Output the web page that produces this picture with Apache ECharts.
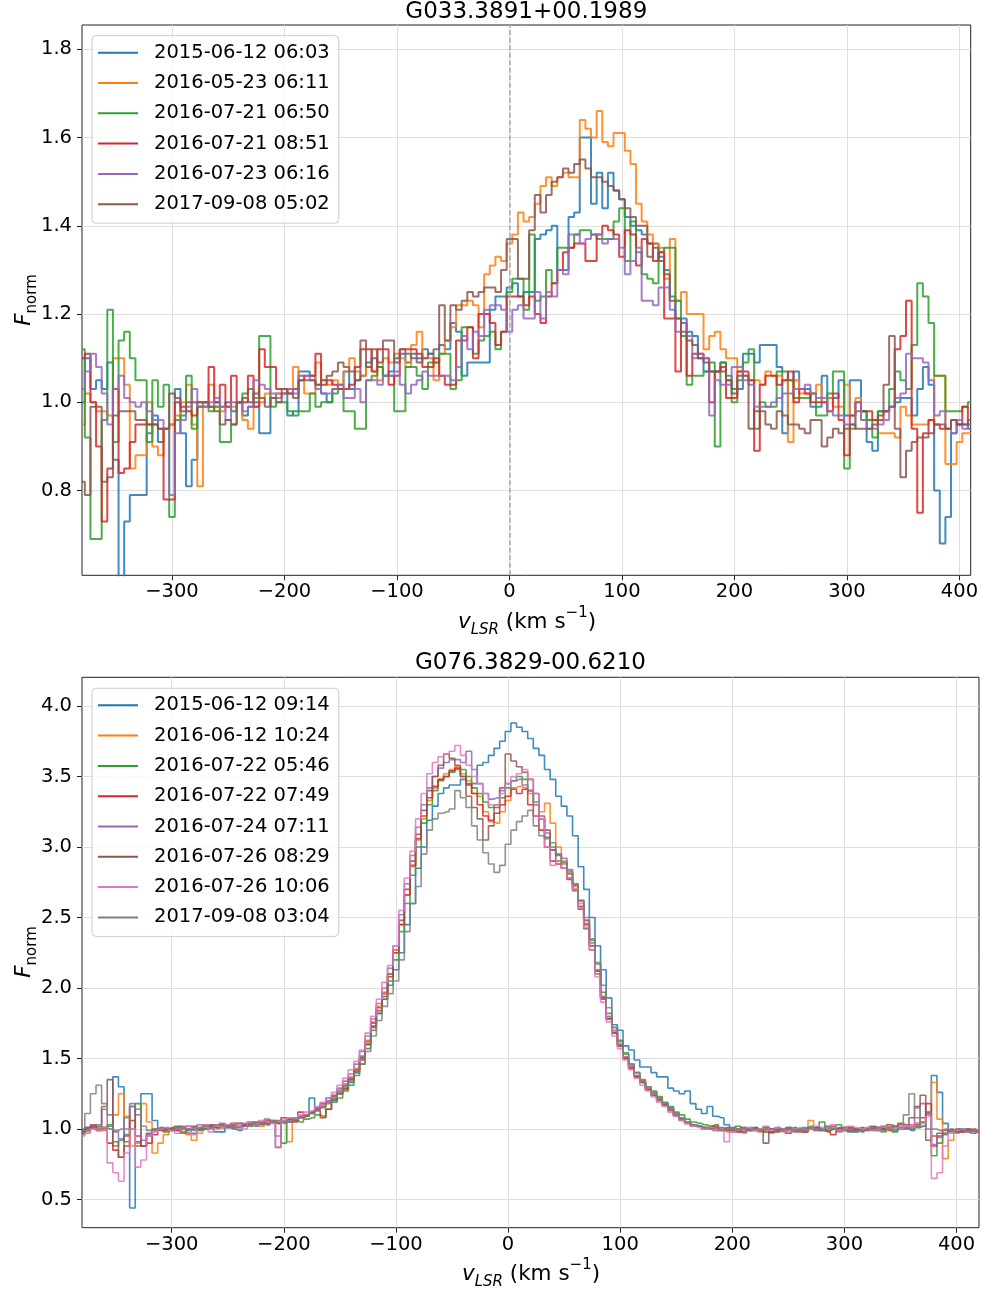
<!DOCTYPE html>
<html>
<head>
<meta charset="utf-8">
<title>Line-profile monitoring of G033.3891+00.1989 and G076.3829-00.6210</title>
<script src="https://cdn.jsdelivr.net/npm/echarts@6.0.0/dist/echarts.min.js"></script>
<style>
  html, body { margin: 0; padding: 0; background: #ffffff; }
  #chart { width: 982px; height: 1295px; }
</style>
</head>
<body>
<div id="chart"></div>
<script>
// ---------------------------------------------------------------------------
// Spectra: normalised flux per 5 km/s velocity channel (v_LSR).
// G033 channels run from -380 to 410 km/s, G076 channels from -380 to 420 km/s.
// ---------------------------------------------------------------------------
const CHANNEL_STEP = 5;
const G033_VEL_START = -380;
const G076_VEL_START = -380;

const G033_TITLE = 'G033.3891+00.1989';
const G076_TITLE = 'G076.3829-00.6210';

const VEL_TICKS = [-300, -200, -100, 0, 100, 200, 300, 400];
const G033_FLUX_TICKS = [0.8, 1.0, 1.2, 1.4, 1.6, 1.8];
const G076_FLUX_TICKS = [0.5, 1.0, 1.5, 2.0, 2.5, 3.0, 3.5, 4.0];

const TAB10 = ['#1f77b4', '#ff7f0e', '#2ca02c', '#d62728', '#9467bd', '#8c564b', '#e377c2', '#7f7f7f'];

// ---- G033.3891+00.1989 ----------------------------------------------------
const g033Epochs = ['2015-06-12 06:03', '2016-05-23 06:11', '2016-07-21 06:50',
                    '2016-07-21 08:51', '2016-07-23 06:16', '2017-09-08 05:02'];

const g033_20150612_0603 = [
  1.00, 1.10, 1.03, 1.05, 1.03, 1.09, 0.87, 0.55, 0.73, 0.79,
  0.79, 0.79, 0.93, 0.97, 0.91, 0.94, 0.95, 1.03, 0.93, 0.81,
  0.87, 0.99, 0.99, 0.99, 1.00, 0.99, 1.00, 0.98, 1.00, 0.97,
  0.99, 1.00, 0.93, 0.93, 1.01, 1.02, 1.02, 0.97, 0.98, 1.07,
  1.07, 1.06, 1.04, 1.02, 1.00, 1.03, 1.04, 1.07, 1.03, 1.05,
  1.06, 1.09, 1.10, 1.08, 1.06, 1.07, 1.10, 1.11, 1.09, 1.11,
  1.10, 1.12, 1.11, 1.09, 1.13, 1.12, 1.18, 1.16, 1.06, 1.09,
  1.09, 1.09, 1.09, 1.21, 1.24, 1.24, 1.26, 1.27, 1.24, 1.25,
  1.25, 1.37, 1.38, 1.39, 1.40, 1.30, 1.30, 1.42, 1.43, 1.60,
  1.60, 1.45, 1.52, 1.44, 1.52, 1.48, 1.46, 1.42, 1.40, 1.39,
  1.38, 1.36, 1.36, 1.33, 1.30, 1.24, 1.19, 1.19, 1.16, 1.15,
  1.10, 1.07, 1.07, 1.07, 1.09, 1.05, 1.03, 1.03, 1.11, 1.11,
  1.09, 1.13, 1.13, 1.13, 1.08, 0.93, 1.05, 1.07, 1.03, 1.03,
  0.99, 0.99, 1.06, 1.01, 1.01, 1.05, 0.97, 1.05, 1.05, 0.98,
  0.91, 0.89, 0.98, 0.98, 0.99, 1.00, 1.01, 1.01, 0.97, 1.03,
  1.08, 1.04, 0.80, 0.68, 0.74, 0.93, 0.95, 0.95, 0.94
];
const g033_20160523_0611 = [
  0.95, 1.02, 1.00, 0.98, 0.98, 0.97, 1.10, 1.10, 1.04, 0.85,
  0.88, 0.88, 1.00, 0.90, 0.88, 0.94, 0.95, 0.97, 1.00, 1.04,
  0.95, 0.81, 0.99, 1.04, 0.99, 0.98, 0.99, 0.99, 1.00, 0.96,
  0.94, 0.99, 1.00, 1.02, 1.01, 1.02, 1.02, 1.03, 1.08, 1.06,
  1.02, 1.02, 1.09, 1.05, 1.04, 1.05, 1.03, 1.07, 1.10, 1.07,
  1.06, 1.08, 1.07, 1.05, 1.10, 1.09, 1.11, 1.10, 1.08, 1.13,
  1.16, 1.10, 1.10, 1.05, 1.11, 1.14, 1.17, 1.22, 1.22, 1.23,
  1.22, 1.17, 1.29, 1.31, 1.33, 1.32, 1.36, 1.38, 1.43, 1.41,
  1.42, 1.45, 1.49, 1.51, 1.49, 1.51, 1.52, 1.51, 1.51, 1.64,
  1.62, 1.60, 1.66, 1.59, 1.58, 1.61, 1.61, 1.57, 1.54, 1.45,
  1.41, 1.38, 1.36, 1.35, 1.28, 1.37, 1.23, 1.25, 1.20, 1.20,
  1.20, 1.12, 1.15, 1.16, 1.12, 1.10, 1.10, 1.07, 1.06, 1.05,
  1.05, 1.04, 1.07, 1.06, 1.06, 1.05, 0.91, 1.05, 1.02, 1.02,
  1.02, 1.04, 1.00, 1.01, 0.99, 0.99, 1.04, 0.97, 1.01, 0.96,
  0.96, 0.96, 0.93, 0.93, 0.93, 0.92, 0.99, 0.97, 0.95, 0.95,
  0.95, 0.96, 1.06, 1.06, 0.86, 0.86, 0.91, 0.93, 0.93
];
const g033_20160721_0650 = [
  1.12, 0.92, 0.69, 0.69, 0.96, 1.21, 0.91, 1.14, 1.16, 1.10,
  1.05, 1.05, 0.91, 1.05, 0.99, 1.04, 0.74, 0.96, 0.97, 1.06,
  0.94, 0.99, 1.00, 0.98, 0.99, 0.91, 0.91, 0.95, 1.00, 1.02,
  1.03, 1.01, 1.15, 1.15, 0.99, 1.00, 1.00, 0.98, 0.97, 0.98,
  0.98, 1.02, 0.99, 1.00, 1.00, 1.02, 1.03, 0.98, 0.98, 0.94,
  0.94, 1.05, 1.06, 1.08, 1.06, 1.06, 0.98, 0.98, 1.08, 1.08,
  1.06, 1.03, 1.09, 1.09, 1.11, 1.11, 1.03, 1.05, 1.17, 1.17,
  1.11, 1.14, 1.15, 1.16, 1.12, 1.16, 1.25, 1.28, 1.28, 1.21,
  1.38, 1.23, 1.24, 1.30, 1.27, 1.35, 1.35, 1.35, 1.38, 1.39,
  1.39, 1.38, 1.37, 1.37, 1.37, 1.41, 1.44, 1.32, 1.41, 1.34,
  1.29, 1.28, 1.27, 1.34, 1.35, 1.35, 1.23, 1.15, 1.04, 1.06,
  1.06, 1.07, 1.09, 0.90, 1.09, 1.06, 1.00, 1.05, 1.09, 1.12,
  0.94, 1.00, 0.99, 0.99, 1.07, 1.07, 1.05, 1.01, 1.01, 1.01,
  1.02, 0.97, 0.97, 1.02, 1.07, 1.07, 0.85, 0.94, 0.98, 0.98,
  0.96, 0.92, 0.98, 0.98, 1.03, 1.07, 1.05, 1.03, 1.13, 1.27,
  1.24, 1.18, 1.06, 1.06, 0.98, 0.98, 0.98, 0.99, 1.00
];
const g033_20160721_0851 = [
  1.10, 1.11, 1.00, 0.90, 0.73, 0.85, 1.03, 0.84, 0.85, 0.91,
  0.95, 0.95, 0.95, 0.95, 0.94, 0.78, 0.78, 1.00, 0.99, 0.98,
  0.97, 1.00, 1.00, 1.08, 1.00, 1.04, 0.99, 1.06, 1.00, 1.00,
  1.06, 0.99, 1.12, 1.08, 1.08, 1.03, 1.03, 1.02, 1.03, 1.05,
  1.06, 1.06, 1.11, 1.04, 1.05, 1.04, 1.03, 1.03, 1.04, 1.08,
  1.12, 1.12, 1.07, 1.12, 1.12, 1.04, 1.06, 1.12, 1.12, 1.12,
  1.11, 1.08, 1.08, 1.10, 1.06, 1.04, 1.04, 1.14, 1.14, 1.17,
  1.10, 1.20, 1.20, 1.18, 1.13, 1.16, 1.24, 1.24, 1.24, 1.22,
  1.24, 1.20, 1.18, 1.24, 1.27, 1.30, 1.34, 1.35, 1.36, 1.36,
  1.32, 1.32, 1.38, 1.40, 1.39, 1.38, 1.33, 1.39, 1.38, 1.31,
  1.37, 1.36, 1.32, 1.34, 1.19, 1.19, 1.07, 1.18, 1.06, 1.11,
  1.11, 1.10, 1.00, 1.07, 1.08, 1.01, 1.01, 1.07, 1.07, 1.05,
  0.89, 1.04, 1.06, 1.06, 1.04, 1.05, 1.07, 1.00, 1.03, 1.02,
  1.00, 1.00, 1.00, 0.98, 1.02, 0.96, 0.88, 0.97, 1.00, 0.98,
  0.98, 0.96, 0.96, 0.98, 0.99, 1.12, 1.15, 1.23, 0.94, 0.75,
  0.93, 0.96, 0.95, 0.94, 0.94, 0.96, 0.95, 0.99, 0.95
];
const g033_20160723_0616 = [
  1.03, 1.07, 1.11, 1.08, 1.02, 0.95, 1.03, 1.06, 1.01, 1.00,
  0.99, 1.00, 0.98, 0.96, 0.96, 0.94, 0.79, 0.93, 0.96, 0.99,
  1.03, 0.99, 0.99, 1.00, 1.01, 0.99, 0.96, 1.00, 1.00, 0.98,
  0.99, 1.05, 1.04, 1.03, 1.02, 1.01, 1.02, 1.03, 1.02, 1.06,
  1.06, 1.05, 1.03, 1.02, 1.02, 1.03, 1.04, 1.01, 1.01, 1.03,
  1.00, 1.05, 1.05, 1.04, 1.06, 1.06, 1.07, 1.04, 1.02, 1.04,
  1.05, 1.07, 1.06, 1.06, 1.06, 1.06, 1.05, 1.08, 1.15, 1.12,
  1.16, 1.15, 1.21, 1.22, 1.22, 1.21, 1.16, 1.21, 1.22, 1.19,
  1.19, 1.25, 1.19, 1.25, 1.24, 1.30, 1.29, 1.38, 1.38, 1.36,
  1.37, 1.38, 1.38, 1.36, 1.37, 1.37, 1.35, 1.29, 1.32, 1.35,
  1.23, 1.23, 1.22, 1.26, 1.26, 1.21, 1.16, 1.18, 1.15, 1.10,
  1.11, 1.10, 0.97, 1.05, 1.04, 1.04, 1.08, 1.08, 1.05, 1.04,
  0.99, 0.99, 0.99, 1.00, 1.01, 1.02, 1.02, 1.03, 1.03, 1.04,
  1.02, 1.01, 1.01, 0.98, 0.97, 0.97, 0.95, 0.95, 1.00, 0.96,
  0.94, 0.94, 0.95, 0.96, 0.99, 1.01, 1.02, 1.11, 1.10, 1.10,
  1.09, 1.05, 0.97, 0.98, 0.94, 0.93, 0.96, 0.94, 0.95
];
const g033_20170908_0502 = [
  0.82, 0.79, 0.99, 0.99, 0.82, 0.83, 0.97, 0.98, 0.98, 0.98,
  0.96, 0.96, 0.95, 0.95, 0.94, 0.94, 1.02, 1.01, 0.98, 1.00,
  1.00, 1.00, 1.00, 0.99, 0.98, 0.95, 0.96, 0.95, 1.00, 1.01,
  1.00, 1.02, 1.01, 0.99, 1.01, 1.00, 1.03, 1.02, 1.01, 1.05,
  1.05, 1.05, 1.04, 1.05, 1.06, 1.07, 1.09, 1.08, 1.07, 1.05,
  1.14, 1.08, 1.12, 1.09, 1.14, 1.14, 1.09, 1.12, 1.11, 1.10,
  1.09, 1.10, 1.11, 1.12, 1.22, 1.14, 1.22, 1.21, 1.23, 1.25,
  1.24, 1.25, 1.26, 1.26, 1.25, 1.30, 1.37, 1.37, 1.28, 1.28,
  1.39, 1.47, 1.43, 1.47, 1.50, 1.51, 1.53, 1.52, 1.54, 1.55,
  1.53, 1.51, 1.51, 1.50, 1.49, 1.48, 1.46, 1.44, 1.42, 1.40,
  1.40, 1.33, 1.35, 1.32, 1.29, 1.23, 1.19, 1.16, 1.14, 1.13,
  1.10, 1.09, 1.07, 1.07, 1.07, 1.05, 1.02, 1.06, 1.06, 0.94,
  0.98, 0.98, 0.95, 0.94, 0.98, 0.97, 0.95, 0.95, 0.94, 0.93,
  0.96, 0.96, 0.90, 0.92, 0.94, 0.93, 0.94, 0.95, 0.94, 0.94,
  0.94, 0.95, 0.97, 1.04, 1.15, 0.94, 0.83, 0.89, 0.91, 0.92,
  0.92, 0.93, 0.95, 0.95, 0.94, 0.96, 0.95, 0.95, 0.96
];
const g033Flux = [g033_20150612_0603, g033_20160523_0611, g033_20160721_0650,
                  g033_20160721_0851, g033_20160723_0616, g033_20170908_0502];

// ---- G076.3829-00.6210 ----------------------------------------------------
const g076Epochs = ['2015-06-12 09:14', '2016-06-12 10:24', '2016-07-22 05:46', '2016-07-22 07:49',
                    '2016-07-24 07:11', '2016-07-26 08:29', '2016-07-26 10:06', '2017-09-08 03:04'];

const g076_20150612_0914 = [
  0.99, 1.01, 1.00, 0.99, 1.01, 1.00, 1.37, 1.30, 0.91, 0.44,
  0.91, 1.25, 1.25, 1.06, 1.00, 1.00, 0.99, 1.01, 0.98, 0.97,
  0.97, 0.99, 1.00, 1.01, 0.98, 0.98, 1.01, 1.00, 0.99, 1.02,
  1.03, 1.02, 1.04, 1.03, 1.05, 1.04, 1.06, 1.05, 1.07, 1.09,
  1.10, 1.22, 1.15, 1.18, 1.22, 1.20, 1.25, 1.28, 1.33, 1.40,
  1.50, 1.60, 1.72, 1.82, 1.92, 2.02, 2.13, 2.25, 2.45, 2.60,
  2.85, 3.00, 3.19, 3.29, 3.38, 3.42, 3.44, 3.44, 3.48, 3.45,
  3.45, 3.58, 3.60, 3.65, 3.70, 3.75, 3.82, 3.88, 3.85, 3.82,
  3.77, 3.70, 3.65, 3.55, 3.48, 3.36, 3.29, 3.22, 3.08, 2.86,
  2.70, 2.50, 2.30, 2.13, 1.93, 1.74, 1.70, 1.59, 1.56, 1.49,
  1.44, 1.44, 1.40, 1.37, 1.37, 1.29, 1.27, 1.25, 1.27, 1.18,
  1.14, 1.11, 1.16, 1.09, 1.08, 1.03, 1.01, 1.00, 0.99, 1.00,
  0.99, 1.00, 0.98, 1.00, 1.01, 0.99, 1.00, 1.01, 0.98, 1.00,
  1.00, 1.01, 1.00, 0.99, 1.00, 1.01, 1.00, 0.98, 0.99, 1.00,
  1.00, 1.01, 0.99, 1.02, 1.00, 0.99, 1.01, 1.00, 0.99, 1.01,
  1.02, 1.12, 1.38, 1.26, 1.04, 0.99, 0.98, 1.00, 0.98, 0.99,
  0.98
];
const g076_20160612_1024 = [
  1.00, 0.98, 1.02, 1.01, 0.99, 1.02, 1.10, 1.25, 1.09, 0.88,
  0.90, 1.18, 1.05, 0.83, 0.90, 0.96, 1.00, 0.99, 0.98, 0.96,
  0.92, 0.97, 1.01, 1.02, 1.00, 1.01, 1.02, 1.03, 1.01, 1.02,
  1.03, 1.04, 1.02, 1.04, 1.05, 1.04, 1.05, 0.91, 1.07, 1.08,
  1.10, 1.12, 1.14, 1.17, 1.20, 1.24, 1.28, 1.32, 1.37, 1.43,
  1.52, 1.63, 1.76, 1.87, 1.97, 2.10, 2.25, 2.45, 2.66, 2.86,
  3.05, 3.20, 3.33, 3.42, 3.48, 3.52, 3.55, 3.57, 3.52, 3.47,
  3.38, 3.36, 3.25, 3.18, 3.17, 3.25, 3.33, 3.42, 3.43, 3.42,
  3.38, 3.30, 3.25, 3.31, 3.17, 3.00, 2.90, 2.82, 2.72, 2.60,
  2.46, 2.30, 2.12, 1.94, 1.79, 1.69, 1.60, 1.51, 1.45, 1.38,
  1.34, 1.29, 1.26, 1.22, 1.18, 1.15, 1.11, 1.08, 1.05, 1.03,
  1.02, 1.01, 1.02, 1.00, 0.99, 0.98, 0.99, 0.98, 0.97, 0.99,
  1.00, 0.98, 0.99, 0.97, 0.99, 0.98, 0.99, 1.00, 0.98, 0.99,
  1.06, 0.99, 1.00, 1.02, 1.01, 0.99, 1.00, 1.01, 0.99, 1.00,
  1.00, 1.01, 0.99, 1.00, 1.02, 1.01, 1.03, 1.00, 1.02, 1.04,
  1.05, 1.10, 1.33, 1.07, 0.79, 0.92, 0.97, 0.99, 0.98, 0.99,
  0.99
];
const g076_20160722_0546 = [
  1.00, 0.99, 1.01, 1.02, 1.00, 1.03, 0.88, 0.92, 0.96, 1.00,
  1.18, 0.88, 0.95, 0.99, 1.00, 0.98, 1.00, 0.99, 0.97, 1.00,
  0.99, 1.01, 1.00, 1.02, 1.01, 1.03, 1.02, 1.01, 1.02, 1.03,
  1.02, 1.04, 1.03, 1.05, 1.04, 1.06, 0.90, 1.05, 1.06, 1.05,
  1.07, 1.08, 1.10, 1.09, 1.14, 1.19, 1.22, 1.27, 1.31, 1.38,
  1.46, 1.57, 1.70, 1.82, 1.92, 2.05, 2.20, 2.40, 2.60, 2.80,
  3.00, 3.17, 3.30, 3.40, 3.47, 3.50, 3.53, 3.55, 3.55, 3.50,
  3.42, 3.38, 3.32, 3.28, 3.30, 3.35, 3.42, 3.47, 3.50, 3.48,
  3.40, 3.32, 3.20, 3.07, 3.00, 2.94, 2.89, 2.81, 2.73, 2.62,
  2.48, 2.34, 2.17, 1.97, 1.82, 1.72, 1.63, 1.54, 1.46, 1.40,
  1.35, 1.30, 1.27, 1.23, 1.19, 1.16, 1.12, 1.10, 1.07, 1.05,
  1.04, 1.03, 1.02, 1.03, 1.01, 1.00, 0.99, 1.02, 1.00, 0.99,
  1.01, 0.99, 1.00, 0.98, 1.00, 0.99, 1.01, 1.00, 0.99, 1.01,
  1.02, 1.00, 1.05, 0.99, 1.00, 1.03, 1.01, 1.00, 0.99, 0.98,
  1.00, 1.01, 1.00, 0.99, 1.01, 0.98, 1.00, 1.01, 1.00, 1.02,
  1.05, 1.11, 0.81, 0.90, 0.96, 0.98, 0.99, 0.98, 1.00, 0.97,
  0.99
];
const g076_20160722_0749 = [
  0.97, 1.00, 1.02, 0.99, 1.01, 0.90, 0.85, 0.80, 0.88, 1.06,
  0.95, 0.88, 0.90, 0.96, 0.99, 1.00, 1.01, 0.99, 1.00, 1.02,
  1.01, 1.00, 1.02, 1.03, 1.02, 1.01, 1.03, 1.02, 1.04, 1.02,
  1.05, 1.03, 1.04, 1.06, 1.05, 1.04, 1.08, 1.07, 1.05, 1.12,
  1.09, 1.11, 1.13, 1.08, 1.14, 1.21, 1.25, 1.29, 1.35, 1.41,
  1.49, 1.60, 1.73, 1.84, 1.94, 2.08, 2.25, 2.45, 2.66, 2.87,
  3.06, 3.22, 3.35, 3.43, 3.48, 3.50, 3.54, 3.56, 3.50, 3.44,
  3.38, 3.30, 3.22, 3.19, 3.24, 3.30, 3.36, 3.41, 3.38, 3.41,
  3.30, 3.22, 3.12, 3.00, 2.90, 2.88, 2.85, 2.77, 2.70, 2.58,
  2.45, 2.30, 2.12, 1.93, 1.78, 1.68, 1.59, 1.50, 1.43, 1.37,
  1.33, 1.28, 1.24, 1.21, 1.17, 1.14, 1.10, 1.07, 1.04, 1.03,
  1.02, 1.01, 1.00, 1.02, 1.00, 0.99, 1.00, 0.98, 1.01, 0.99,
  1.00, 0.99, 1.01, 0.98, 0.99, 1.00, 0.97, 0.99, 1.00, 0.98,
  1.00, 1.01, 0.99, 0.98, 0.96, 1.00, 1.01, 0.99, 1.00, 1.01,
  0.99, 1.00, 1.01, 1.00, 0.99, 1.01, 1.00, 1.02, 1.01, 1.03,
  1.08, 1.18, 0.88, 0.95, 0.97, 0.99, 1.00, 0.98, 0.99, 1.00,
  0.98
];
const g076_20160724_0711 = [
  0.96, 1.00, 1.01, 1.03, 1.14, 1.10, 0.98, 0.93, 1.00, 1.18,
  1.10, 0.92, 0.96, 0.99, 1.00, 1.01, 0.99, 1.00, 1.02, 1.00,
  1.01, 1.03, 1.02, 1.00, 1.02, 1.04, 1.02, 1.03, 1.01, 1.04,
  1.03, 1.05, 1.04, 1.07, 1.05, 0.95, 1.06, 1.05, 1.08, 1.09,
  1.10, 1.12, 1.15, 1.18, 1.20, 1.24, 1.29, 1.34, 1.39, 1.46,
  1.55, 1.66, 1.78, 1.89, 2.00, 2.14, 2.30, 2.52, 2.74, 2.94,
  3.14, 3.30, 3.42, 3.50, 3.56, 3.60, 3.62, 3.62, 3.60, 3.68,
  3.55, 3.45, 3.38, 3.34, 3.35, 3.40, 3.45, 3.47, 3.48, 3.44,
  3.40, 3.30, 3.20, 3.10, 2.98, 2.95, 2.92, 2.84, 2.74, 2.62,
  2.48, 2.32, 2.13, 1.94, 1.80, 1.70, 1.60, 1.51, 1.44, 1.38,
  1.34, 1.28, 1.25, 1.21, 1.17, 1.14, 1.10, 1.07, 1.05, 1.03,
  1.02, 1.01, 1.00, 1.01, 0.99, 1.00, 0.98, 0.99, 1.00, 1.01,
  0.99, 1.00, 0.98, 1.00, 1.01, 0.99, 1.00, 0.98, 0.99, 1.00,
  1.01, 0.99, 1.00, 1.02, 1.00, 0.99, 1.01, 1.00, 0.98, 1.00,
  1.01, 1.00, 0.99, 1.01, 1.00, 1.02, 1.01, 1.00, 1.03, 1.08,
  1.18, 1.12, 0.89, 0.94, 0.97, 0.99, 0.98, 1.00, 0.99, 0.98,
  0.99
];
const g076_20160726_0829 = [
  0.98, 1.01, 1.03, 1.00, 1.16, 1.35, 0.91, 0.80, 0.95, 1.16,
  0.88, 0.88, 0.97, 1.00, 1.01, 0.99, 1.00, 1.02, 1.01, 0.99,
  1.02, 1.00, 1.03, 1.02, 1.01, 1.03, 1.02, 1.04, 1.02, 1.03,
  1.04, 1.03, 1.05, 1.04, 1.06, 0.87, 1.05, 1.07, 1.06, 1.08,
  1.09, 1.12, 1.14, 1.16, 1.19, 1.23, 1.27, 1.31, 1.36, 1.42,
  1.51, 1.62, 1.75, 1.86, 1.96, 2.10, 2.27, 2.48, 2.70, 2.90,
  3.09, 3.26, 3.40, 3.50, 3.58, 3.66, 3.63, 3.58, 3.50, 3.36,
  3.28, 3.20, 3.05, 3.15, 3.28, 3.42, 3.66, 3.61, 3.57, 3.53,
  3.48, 3.38, 3.22, 3.12, 2.98, 2.90, 2.85, 2.78, 2.69, 2.56,
  2.42, 2.27, 2.10, 1.92, 1.78, 1.68, 1.59, 1.50, 1.44, 1.37,
  1.33, 1.28, 1.24, 1.20, 1.17, 1.13, 1.09, 1.06, 1.04, 1.02,
  1.02, 1.00, 1.01, 0.99, 1.00, 1.01, 0.99, 1.00, 0.98, 1.00,
  1.01, 0.99, 0.90, 1.00, 0.98, 1.00, 1.01, 0.99, 1.00, 0.98,
  1.00, 1.01, 0.99, 1.00, 1.02, 1.00, 0.99, 1.01, 1.00, 0.99,
  1.00, 1.02, 1.01, 1.00, 1.03, 1.02, 1.04, 1.03, 1.08, 1.16,
  1.24, 0.92, 0.95, 0.97, 0.99, 1.00, 0.98, 0.99, 1.00, 0.99,
  0.99
];
const g076_20160726_1006 = [
  0.95, 0.97, 1.00, 0.99, 1.01, 0.76, 0.69, 0.63, 0.83, 1.00,
  0.73, 0.78, 0.95, 0.98, 1.00, 1.01, 0.99, 0.97, 1.00, 1.02,
  0.96, 1.01, 1.03, 0.98, 1.02, 1.01, 1.03, 1.04, 1.02, 1.00,
  1.05, 1.03, 1.06, 1.05, 1.04, 0.87, 1.06, 1.08, 1.07, 1.10,
  1.12, 1.13, 1.16, 1.19, 1.22, 1.26, 1.31, 1.36, 1.42, 1.48,
  1.56, 1.68, 1.80, 1.92, 2.04, 2.16, 2.30, 2.55, 2.78, 2.97,
  3.20, 3.38, 3.52, 3.60, 3.64, 3.66, 3.68, 3.72, 3.65, 3.58,
  3.50, 3.45, 3.38, 3.30, 3.30, 3.38, 3.45, 3.50, 3.52, 3.55,
  3.48, 3.38, 3.20, 3.00, 2.87, 2.90, 2.85, 2.78, 2.70, 2.57,
  2.43, 2.27, 2.08, 1.90, 1.76, 1.66, 1.57, 1.49, 1.42, 1.36,
  1.31, 1.27, 1.23, 1.19, 1.16, 1.12, 1.09, 1.06, 1.04, 1.02,
  1.01, 1.00, 1.01, 0.99, 1.00, 0.91, 0.98, 1.00, 0.99, 1.01,
  0.99, 1.00, 1.02, 0.99, 1.01, 1.00, 0.98, 1.00, 1.01, 0.99,
  1.00, 1.02, 1.01, 1.00, 1.03, 0.99, 1.00, 1.02, 1.01, 1.00,
  1.01, 0.99, 1.00, 1.02, 1.00, 1.01, 1.00, 1.02, 1.01, 1.04,
  1.04, 1.09, 0.65, 0.69, 0.88, 0.97, 0.99, 1.00, 0.98, 0.99,
  0.99
];
const g076_20170908_0304 = [
  1.00, 1.11, 1.25, 1.31, 1.18, 1.02, 0.99, 1.00, 1.08, 1.16,
  1.14, 1.02, 0.99, 1.00, 1.01, 1.00, 0.99, 1.01, 1.00, 0.99,
  1.00, 1.01, 1.02, 1.01, 1.03, 1.02, 1.01, 1.03, 1.04, 1.02,
  1.03, 1.05, 1.04, 1.03, 1.06, 1.05, 1.04, 1.06, 1.07, 1.08,
  1.09, 1.11, 1.13, 1.15, 1.18, 1.22, 1.26, 1.30, 1.34, 1.40,
  1.46, 1.55, 1.66, 1.77, 1.87, 1.96, 2.05, 2.20, 2.40, 2.60,
  2.72, 2.95, 3.12, 3.20, 3.24, 3.25, 3.27, 3.40, 3.35, 3.28,
  3.15, 3.05, 2.96, 2.88, 2.82, 2.87, 3.02, 3.12, 3.18, 3.22,
  3.26, 3.15, 3.08, 3.06, 3.03, 2.95, 2.88, 2.83, 2.74, 2.62,
  2.50, 2.35, 2.18, 2.02, 1.86, 1.72, 1.62, 1.53, 1.46, 1.40,
  1.34, 1.30, 1.26, 1.22, 1.18, 1.15, 1.11, 1.08, 1.05, 1.03,
  1.02, 1.01, 1.00, 1.01, 0.99, 1.00, 0.99, 1.00, 1.01, 0.99,
  1.00, 0.99, 1.01, 1.00, 0.98, 1.00, 1.01, 0.99, 1.00, 0.99,
  1.01, 1.00, 0.99, 1.01, 1.00, 0.98, 0.99, 1.00, 0.98, 0.99,
  1.00, 0.99, 1.01, 0.98, 1.00, 1.02, 1.03, 1.10, 1.25, 1.15,
  1.02, 1.00, 1.00, 0.99, 1.00, 0.99, 1.00, 0.99, 0.98, 0.99,
  0.99
];
const g076Flux = [g076_20150612_0914, g076_20160612_1024, g076_20160722_0546, g076_20160722_0749,
                  g076_20160724_0711, g076_20160726_0829, g076_20160726_1006, g076_20170908_0304];

// ---------------------------------------------------------------------------
// Chart construction
// ---------------------------------------------------------------------------
const FONT = 'DejaVu Sans';

// pair each flux sample with the centre velocity of its channel
function toChannels(flux, start) {
  return flux.map((f, i) => [start + i * CHANNEL_STEP, f]);
}

function spectrumSeries(name, flux, start, color, panel, width) {
  return {
    name: name,
    type: 'line',
    xAxisIndex: panel,
    yAxisIndex: panel,
    data: toChannels(flux, start),
    step: 'middle',
    symbol: 'none',
    showSymbol: false,
    clip: true,
    lineStyle: { color: color, width: width, opacity: 0.85 },
    itemStyle: { color: color },
    emphasis: { disabled: true },
    silent: true
  };
}

const minusSign = (v) => String(v).replace('-', '\u2212');

function velocityAxis(grid, min, max) {
  return {
    type: 'value', gridIndex: grid, min: min, max: max,
    splitNumber: 8, minInterval: 100, maxInterval: 100,
    axisLine: { show: false, onZero: false },
    axisTick: { show: true, length: 5, customValues: VEL_TICKS, lineStyle: { color: '#222', width: 1 } },
    axisLabel: {
      customValues: VEL_TICKS,
      margin: 7, color: '#000', fontFamily: FONT, fontSize: 19.5, formatter: minusSign
    },
    splitLine: { show: true, lineStyle: { color: '#dedede', width: 1 } }
  };
}

function fluxAxis(grid, min, max, ticks, step) {
  return {
    type: 'value', gridIndex: grid, min: min, max: max,
    splitNumber: 8, minInterval: step, maxInterval: step,
    axisLine: { show: false, onZero: false },
    axisTick: { show: true, length: 5, customValues: ticks, lineStyle: { color: '#222', width: 1 } },
    axisLabel: {
      customValues: ticks,
      margin: 10, color: '#000', fontFamily: FONT, fontSize: 19.5,
      formatter: (v) => Number(v).toFixed(1)
    },
    splitLine: { show: true, lineStyle: { color: '#dedede', width: 1 } }
  };
}

function epochLegend(names, top) {
  return {
    data: names,
    orient: 'vertical',
    left: 92, top: top,
    icon: 'rect', itemWidth: 40, itemHeight: 2, itemGap: 10.3,
    selectedMode: false,
    textStyle: { fontFamily: FONT, fontSize: 19.5, color: '#000', lineHeight: 20, padding: [0, 0, 0, 11] },
    backgroundColor: 'rgba(255,255,255,0.8)',
    borderColor: '#cccccc', borderWidth: 1, borderRadius: 4,
    padding: [7, 9, 9, 6]
  };
}

const xNameRich = {
  i:   { fontFamily: FONT, fontStyle: 'italic', fontSize: 21.5, lineHeight: 32, verticalAlign: 'middle', fill: '#000' },
  sub: { fontFamily: FONT, fontStyle: 'italic', fontSize: 15, lineHeight: 15, verticalAlign: 'bottom', fill: '#000' },
  n:   { fontFamily: FONT, fontSize: 21.5, lineHeight: 32, verticalAlign: 'middle', fill: '#000' },
  sup: { fontFamily: FONT, fontSize: 15, lineHeight: 15, verticalAlign: 'top', fill: '#000' }
};
const yNameRich = {
  i:   { fontFamily: FONT, fontStyle: 'italic', fontSize: 21.5, lineHeight: 32, verticalAlign: 'middle', fill: '#000' },
  sub: { fontFamily: FONT, fontSize: 15, lineHeight: 15, verticalAlign: 'bottom', fill: '#000' }
};
const X_NAME = '{i|v}{sub|LSR}{n| (km s}{sup|\u22121}{n|)}';
const Y_NAME = '{i|F}{sub|norm}';

function label(text, x, y, extra) {
  return Object.assign({
    type: 'text', x: x, y: y, silent: true,
    style: Object.assign({ text: text, fill: '#000', align: 'center', verticalAlign: 'middle' }, extra.style || {})
  }, extra.el || {});
}

const series = [];
g033Epochs.forEach((name, i) => {
  const s = spectrumSeries(name, g033Flux[i], G033_VEL_START, TAB10[i], 0, 2);
  if (i === 0) {
    // systemic reference at v = 0
    s.markLine = {
      silent: true, symbol: ['none', 'none'], label: { show: false },
      lineStyle: { type: [5, 2.5], color: '#a8a8a8', width: 1.5 },
      data: [{ xAxis: 0 }]
    };
  }
  series.push(s);
});
g076Epochs.forEach((name, i) => {
  series.push(spectrumSeries(name, g076Flux[i], G076_VEL_START, TAB10[i], 1, 1.6));
});

const option = {
  animation: false,
  backgroundColor: '#ffffff',
  grid: [
    { left: 82, top: 25, width: 888.7, height: 550.3, show: true, borderColor: '#222', borderWidth: 1, backgroundColor: 'transparent' },
    { left: 82, top: 677.3, width: 897, height: 550.4, show: true, borderColor: '#222', borderWidth: 1, backgroundColor: 'transparent' }
  ],
  xAxis: [velocityAxis(0, -380, 410), velocityAxis(1, -380, 420)],
  yAxis: [fluxAxis(0, 0.608, 1.855, G033_FLUX_TICKS, 0.2), fluxAxis(1, 0.30, 4.204, G076_FLUX_TICKS, 0.5)],
  legend: [epochLegend(g033Epochs, 35.7), epochLegend(g076Epochs, 688.3)],
  graphic: [
    label(G033_TITLE, 526.3, 12, { style: { font: '23px "DejaVu Sans"' } }),
    label(G076_TITLE, 530.5, 663, { style: { font: '23px "DejaVu Sans"' } }),
    label(X_NAME, 527, 622, { style: { rich: xNameRich } }),
    label(X_NAME, 531, 1274, { style: { rich: xNameRich } }),
    label(Y_NAME, 24, 300, { style: { rich: yNameRich }, el: { rotation: Math.PI / 2 } }),
    label(Y_NAME, 24, 952, { style: { rich: yNameRich }, el: { rotation: Math.PI / 2 } })
  ],
  series: series
};

const chart = echarts.init(document.getElementById('chart'), null, { renderer: 'canvas', width: 982, height: 1295 });
chart.setOption(option);
</script>
</body>
</html>
